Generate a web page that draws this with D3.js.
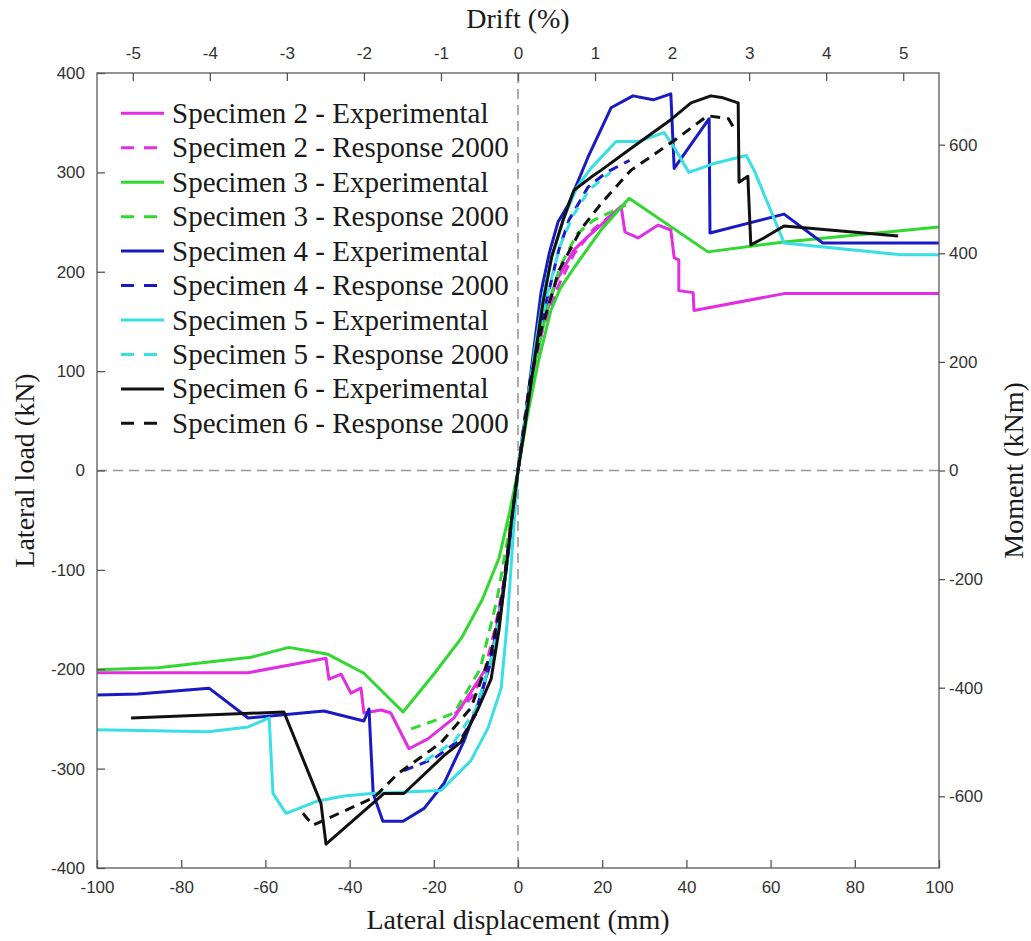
<!DOCTYPE html>
<html>
<head>
<meta charset="utf-8">
<script src="https://cdn.jsdelivr.net/npm/d3@7"></script>
<style>
  body { margin: 0; background: #fff; }
  svg { display: block; }
  .tick text { font-family: "Liberation Sans", Arial, sans-serif; font-size: 17px; fill: #333; }
  .title { font-family: "Liberation Serif", "Times New Roman", serif; font-size: 28px; fill: #1a1a1a; }
  .legend text { font-family: "Liberation Serif", "Times New Roman", serif; font-size: 29px; fill: #1a1a1a; }
</style>
</head>
<body>
<svg id="chart" width="1031" height="941"></svg>
<script>
// Lateral displacement (mm) vs lateral load (kN), one [disp, load] pair per point
const spec2Exp = [[-100,-203.5],[-64.1,-203.5],[-45.6,-189],[-44.9,-210],[-42,-205],[-39.7,-224],[-37.3,-219],[-36.6,-244],[-32.5,-241],[-30.2,-244],[-25.9,-280],[-21.4,-270],[-15.2,-249],[-9.5,-212],[-6.4,-191],[-4.75,-150],[-2.85,-101],[-1.2,-45],[0,0],[1.5,45],[3.6,100],[6.2,150],[9,190],[13.3,222],[16,233],[19.7,247],[24.5,266],[25.4,240],[28.5,234],[33.3,247],[36.3,242],[37.1,214],[38.2,212],[38.2,181],[41.6,179],[41.8,161],[63.2,178],[100,178]];
const spec2R2000 = [[-15,-245],[-11,-228],[-8,-203],[-5.5,-160],[-3.5,-115],[-1.8,-62],[0,0],[1.8,58],[3.6,100],[6,145],[9.5,185],[13.3,218],[18,243],[24.5,265]];
const spec3Exp = [[-100,-200.5],[-85.5,-198.5],[-63.4,-188],[-54.4,-178],[-45.1,-185],[-36.6,-204],[-27.3,-243],[-20,-205],[-13.5,-169],[-8.5,-130],[-4.5,-88],[-2,-42],[0,0],[2,50],[4.75,108],[7.8,161],[10,183],[13.3,204],[19.7,242],[26.4,274],[45.1,220],[63.2,230],[100,245]];
const spec3R2000 = [[-25.4,-260],[-20,-252],[-15.2,-244],[-9,-200],[-5,-130],[-2.5,-70],[0,0],[2,60],[4,108],[7,165],[10,205],[14,238],[18,252],[25.6,267]];
const spec4Exp = [[-100,-226],[-90.3,-225],[-73.4,-219],[-64.1,-249],[-46.1,-242],[-36.6,-252],[-35.4,-240],[-34.4,-325],[-32.1,-353],[-27.3,-353],[-22.3,-340],[-17.6,-315],[-12.8,-272],[-9.5,-235],[-6.4,-191],[-4,-140],[-2,-72],[0,0],[2,62],[4,130],[5.5,180],[7.5,220],[9.5,250],[12,268],[16.6,315],[22.1,365],[27.3,377],[32.1,373],[36.3,379],[37.1,304],[45.4,354],[45.6,239],[63.2,258],[72.4,229],[100,229]];
const spec4R2000 = [[-27.1,-302],[-20,-290],[-13.5,-270],[-10,-245],[-6.4,-191],[-3.5,-120],[-2,-68],[0,0],[2,65],[3.6,111],[7,175],[9.7,222],[12.1,252],[16.6,285],[21,300],[26.5,312]];
const spec5Exp = [[-100,-261],[-73.6,-263],[-64.1,-258],[-59.1,-249],[-58.2,-325],[-55.1,-345],[-47.5,-332.5],[-41.3,-327.5],[-34.9,-325],[-18.3,-322],[-14.3,-305],[-11.2,-292],[-7.1,-259],[-4,-219],[-2.5,-150],[-1.3,-75],[0,0],[2,58],[4,122],[6,175],[8,215],[11,255],[14,285],[17.3,304],[23.3,331],[28.5,331],[34.7,340],[37.1,325],[40.6,300],[46.6,309],[54.2,317],[56.1,302],[63.2,229],[91,217],[100,217]];
const spec5R2000 = [[-22,-292],[-15,-272],[-10,-240],[-6,-185],[-3.5,-125],[-2,-70],[0,0],[2,62],[4,118],[7,178],[10,226],[13,256],[17,283],[22,300]];
const spec6Exp = [[-91.9,-249],[-55.6,-243],[-46.8,-335],[-45.6,-376],[-31.8,-325],[-27.1,-325],[-17.6,-287],[-13.5,-273],[-9.5,-240],[-6.4,-210],[-4.5,-160],[-2.85,-100],[-1.5,-50],[0,0],[1.5,40],[3.5,100],[5.9,168],[8,215],[10.7,252],[13.3,282],[17.3,295],[19.7,302],[26.8,324],[36.3,353],[41.1,370],[45.8,377],[48.7,375],[52.3,370],[52.5,290],[54.6,296],[55.3,227],[58.4,234],[63.2,246],[90.3,236]];
const spec6R2000 = [[-51.1,-345],[-48.7,-357],[-34.2,-329],[-28.5,-305],[-18.3,-274],[-11.2,-239],[-6.4,-184],[-3.5,-120],[-2,-65],[0,0],[2,60],[2.6,84],[5.5,141],[9.7,201],[15,243],[20,270],[26.8,302],[37.1,332],[45,357],[50,354],[51.5,343]];

const seriesLabels = [
  "Specimen 2 - Experimental", "Specimen 2 - Response 2000",
  "Specimen 3 - Experimental", "Specimen 3 - Response 2000",
  "Specimen 4 - Experimental", "Specimen 4 - Response 2000",
  "Specimen 5 - Experimental", "Specimen 5 - Response 2000",
  "Specimen 6 - Experimental", "Specimen 6 - Response 2000"
];
const seriesData = [spec2Exp, spec2R2000, spec3Exp, spec3R2000, spec4Exp, spec4R2000, spec5Exp, spec5R2000, spec6Exp, spec6R2000];
const seriesColors = ["#e22ee2", "#e22ee2", "#2fd92f", "#2fd92f", "#1a1ac4", "#1a1ac4", "#38e0e6", "#38e0e6", "#111111", "#111111"];
const seriesDashed = [false, true, false, true, false, true, false, true, false, true];

// Axis settings
const dispDomain = [-100, 100];
const loadDomain = [-400, 400];
const dispTicks = [-100, -80, -60, -40, -20, 0, 20, 40, 60, 80, 100];
const loadTicks = [-400, -300, -200, -100, 0, 100, 200, 300, 400];
const driftTicks = [-5, -4, -3, -2, -1, 0, 1, 2, 3, 4, 5];
const momentTicks = [-600, -400, -200, 0, 200, 400, 600];
const columnHeight = 1.83; // m, lever arm: drift = disp / height, moment = load * height

const svg = d3.select("#chart");
const plotL = 97, plotR = 939, plotT = 73, plotB = 868;

const x = d3.scaleLinear().domain(dispDomain).range([plotL, plotR]);
const y = d3.scaleLinear().domain(loadDomain).range([plotB, plotT]);
const xDrift = d3.scaleLinear()
  .domain(dispDomain.map(d => d / (columnHeight * 10)))
  .range([plotL, plotR]);
const yMoment = d3.scaleLinear()
  .domain(loadDomain.map(d => d * columnHeight))
  .range([plotB, plotT]);

svg.append("defs").append("clipPath").attr("id", "plot-clip")
  .append("rect").attr("x", plotL).attr("y", plotT).attr("width", plotR - plotL).attr("height", plotB - plotT);

// zero reference lines
svg.append("line")
  .attr("x1", x(0)).attr("x2", x(0)).attr("y1", plotT).attr("y2", plotB)
  .attr("stroke", "#999").attr("stroke-width", 1.6).attr("stroke-dasharray", "10,6");
svg.append("line")
  .attr("x1", plotL).attr("x2", plotR).attr("y1", y(0)).attr("y2", y(0))
  .attr("stroke", "#999").attr("stroke-width", 1.6).attr("stroke-dasharray", "10,6");

// curves
const line = d3.line().x(d => x(d[0])).y(d => y(d[1]));
const curves = svg.append("g").attr("clip-path", "url(#plot-clip)");
seriesData.forEach((data, i) => {
  curves.append("path")
    .datum(data)
    .attr("d", line)
    .attr("fill", "none")
    .attr("stroke", seriesColors[i])
    .attr("stroke-width", 3)
    .attr("stroke-linejoin", "round")
    .attr("stroke-dasharray", seriesDashed[i] ? "10,7" : null);
});

// frame
svg.append("rect")
  .attr("x", plotL).attr("y", plotT).attr("width", plotR - plotL).attr("height", plotB - plotT)
  .attr("fill", "none").attr("stroke", "#666").attr("stroke-width", 1.4);

function styleAxis(g) {
  g.select(".domain").remove();
  g.selectAll(".tick line").attr("stroke", "#555").attr("stroke-width", 1.3);
}

const fmt = d => String(d);

svg.append("g").attr("transform", `translate(0,${plotB})`)
  .call(d3.axisBottom(x).tickValues(dispTicks).tickFormat(fmt).tickSize(-8).tickPadding(13))
  .call(styleAxis);
svg.append("g").attr("transform", `translate(${plotL},0)`)
  .call(d3.axisLeft(y).tickValues(loadTicks).tickFormat(fmt).tickSize(-8).tickPadding(12))
  .call(styleAxis);
svg.append("g").attr("transform", `translate(0,${plotT})`)
  .call(d3.axisTop(xDrift).tickValues(driftTicks).tickFormat(fmt).tickSize(-8).tickPadding(14))
  .call(styleAxis);
svg.append("g").attr("transform", `translate(${plotR},0)`)
  .call(d3.axisRight(yMoment).tickValues(momentTicks).tickFormat(fmt).tickSize(6).tickPadding(4))
  .call(styleAxis);

// axis titles
svg.append("text").attr("class", "title")
  .attr("x", x(0)).attr("y", 929).attr("text-anchor", "middle")
  .text("Lateral displacement (mm)");
svg.append("text").attr("class", "title")
  .attr("x", x(0)).attr("y", 28).attr("text-anchor", "middle")
  .text("Drift (%)");
svg.append("text").attr("class", "title")
  .attr("transform", `translate(34,${y(0)}) rotate(-90)`)
  .attr("text-anchor", "middle")
  .text("Lateral load (kN)");
svg.append("text").attr("class", "title")
  .attr("transform", `translate(1023,${y(0)}) rotate(-90)`)
  .attr("text-anchor", "middle")
  .text("Moment (kNm)");

// legend
const legend = svg.append("g").attr("class", "legend");
seriesLabels.forEach((label, i) => {
  const cy = 113.3 + i * 34.45;
  legend.append("line")
    .attr("x1", 121).attr("x2", 164).attr("y1", cy).attr("y2", cy)
    .attr("stroke", seriesColors[i]).attr("stroke-width", 3)
    .attr("stroke-dasharray", seriesDashed[i] ? "13,10" : null);
  legend.append("text")
    .attr("x", 172).attr("y", cy + 9.5)
    .text(label);
});
</script>
</body>
</html>
